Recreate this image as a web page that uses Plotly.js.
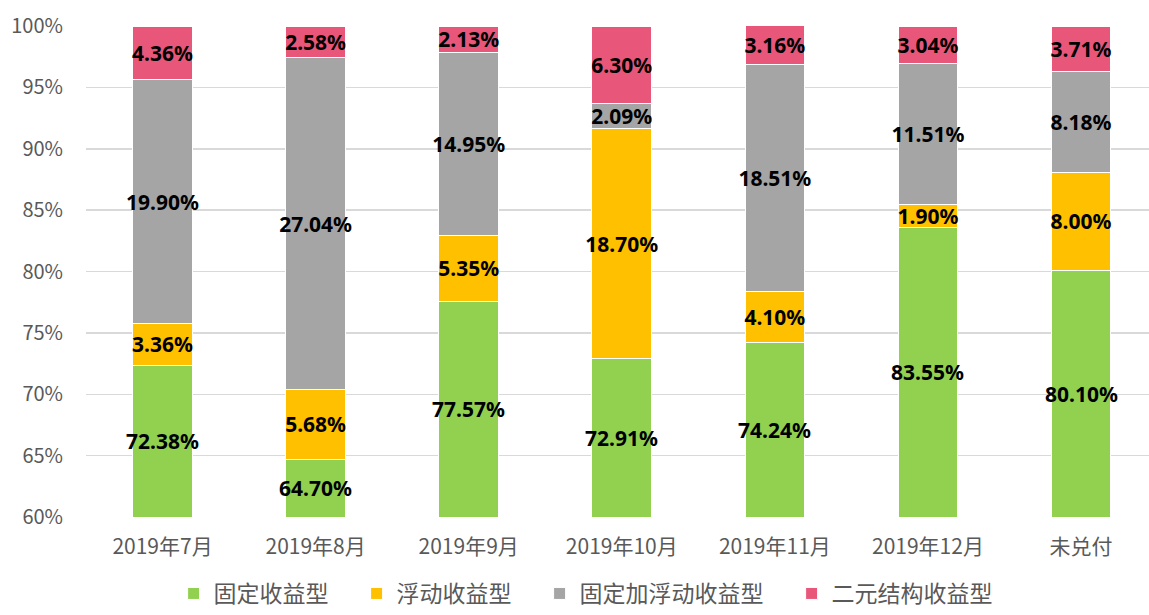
<!DOCTYPE html>
<html><head><meta charset="utf-8">
<script src="https://cdn.plot.ly/plotly-3.0.1.min.js"></script>
<style>html,body{margin:0;padding:0;background:#fff;}#chart{width:1149px;height:615px;}</style>
</head><body><div id="chart"></div>
<script>
const categories = ['2019年7月','2019年8月','2019年9月','2019年10月','2019年11月','2019年12月','未兑付'];
const seriesNames = ['固定收益型','浮动收益型','固定加浮动收益型','二元结构收益型'];
const fixedIncome = [72.38, 64.70, 77.57, 72.91, 74.24, 83.55, 80.10];
const floatingIncome = [3.36, 5.68, 5.35, 18.70, 4.10, 1.90, 8.00];
const fixedPlusFloating = [19.90, 27.04, 14.95, 2.09, 18.51, 11.51, 8.18];
const binaryStructure = [4.36, 2.58, 2.13, 6.30, 3.16, 3.04, 3.71];
const colors = ['#92d050','#ffc000','#a5a5a5','#e8577a'];

const yRange = [60, 100];
const series = [fixedIncome, floatingIncome, fixedPlusFloating, binaryStructure];
const font = "'Noto Sans CJK SC', 'Noto Sans', sans-serif";
const labelFont = {family: "'Noto Sans', sans-serif", size: 21, color: '#000000', weight: 'bold'};
const traces = series.map((vals, i) => ({
  type: 'bar',
  name: seriesNames[i] + (i < series.length - 1 ? '\u2002\u2002' : ''),
  x: categories,
  y: vals,
  width: 0.39,
  marker: {color: colors[i], line: {color: '#ffffff', width: 1}},
  text: i === 0 ? vals.map(() => '') : vals.map(v => v.toFixed(2) + '%'),
  textposition: 'inside',
  insidetextanchor: 'middle',
  constraintext: 'none',
  textangle: 0,
  textfont: labelFont,
  hoverinfo: 'none'
}));

// bottom series is clipped by the axis range: centre its labels in the visible part
const annotations = fixedIncome.map((v, j) => ({
  x: categories[j], y: (yRange[0] + v) / 2, xref: 'x', yref: 'y',
  text: v.toFixed(2) + '%', showarrow: false, font: labelFont
}));

const layout = {
  width: 1149, height: 615,
  barmode: 'stack',
  margin: {l: 86, r: 0, t: 26, b: 98, autoexpand: false},
  paper_bgcolor: '#ffffff', plot_bgcolor: '#ffffff',
  font: {family: font, color: '#595959', size: 18},
  annotations: annotations,
  xaxis: {
    type: 'category', range: [-0.5, 6.444], showgrid: false, zeroline: false,
    showline: false, ticks: '', ticklabelstandoff: 15, automargin: false,
    tickfont: {family: font, size: 21, color: '#595959'}
  },
  yaxis: {
    range: yRange, dtick: 5, ticksuffix: '%', showgrid: true, automargin: false,
    gridcolor: '#d9d9d9', gridwidth: 1.5, zeroline: false, showline: false,
    ticks: '', ticklabelstandoff: 22,
    tickfont: {family: font, size: 20, color: '#595959'}
  },
  showlegend: true,
  legend: {
    orientation: 'h', x: 0.47, xanchor: 'center', xref: 'paper',
    yref: 'container', y: 0, yanchor: 'bottom',
    font: {family: font, size: 23, color: '#595959'}, traceorder: 'normal',
    itemwidth: 30
  },
  bargap: 0
};
Plotly.newPlot('chart', traces, layout, {displayModeBar: false, staticPlot: true});
</script></body></html>
